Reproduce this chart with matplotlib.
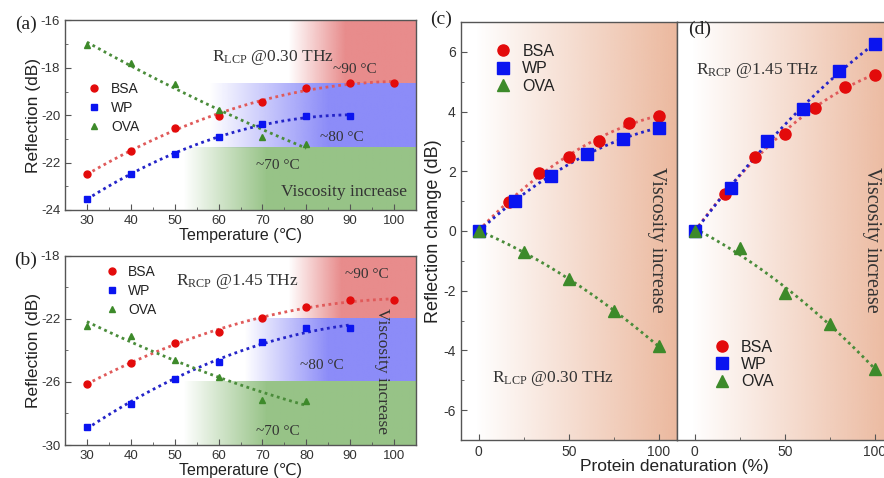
import numpy as np
import matplotlib
matplotlib.use("Agg")
import matplotlib.pyplot as plt
from matplotlib.lines import Line2D
from matplotlib.colors import to_rgb

plt.rcParams['font.family'] = ['Liberation Sans', 'DejaVu Sans']
plt.rcParams['mathtext.fontset'] = 'custom'
plt.rcParams['mathtext.rm'] = 'Liberation Serif'
plt.rcParams['mathtext.it'] = 'Liberation Serif:italic'
plt.rcParams['axes.unicode_minus'] = False

# ---------------- data ----------------
temp_bsa = [30, 40, 50, 60, 70, 80, 90, 100]
temp_wp = [30, 40, 50, 60, 70, 80, 90]
temp_ova = [30, 40, 50, 60, 70, 80]

a_bsa = [-22.49, -21.52, -20.54, -20.03, -19.44, -18.87, -18.63, -18.63]
a_wp = [-23.52, -22.49, -21.65, -20.92, -20.39, -20.04, -20.03]
a_ova = [-17.04, -17.79, -18.70, -19.79, -20.94, -21.20]

b_bsa = [-26.11, -24.82, -23.55, -22.81, -21.93, -21.23, -20.81, -20.83]
b_wp = [-28.83, -27.40, -25.81, -24.72, -23.49, -22.56, -22.60]
b_ova = [-22.43, -23.07, -24.61, -25.67, -27.15, -27.21]

den_bsa = [0, 16.7, 33.3, 50, 66.7, 83.3, 100]
den_wp = [0, 20, 40, 60, 80, 100]
den_ova = [0, 25, 50, 75, 100]

c_bsa = [0, 0.98, 1.94, 2.49, 3.03, 3.61, 3.86]
c_wp = [0, 1.00, 1.85, 2.58, 3.09, 3.45]
c_ova = [0, -0.69, -1.61, -2.67, -3.86]

d_bsa = [0, 1.24, 2.49, 3.26, 4.13, 4.82, 5.23]
d_wp = [0, 1.43, 3.03, 4.08, 5.35, 6.27]
d_ova = [0, -0.56, -2.09, -3.10, -4.61]

# band limits (dB)
a_bands = [-18.66, -21.38]
b_bands = [-22.0, -26.0]

labels = ['BSA', 'WP', 'OVA']
mk_col = ['#E30B0B', '#0A14F0', '#3D8A2A']
fit_col = ['#E05A5A', '#2424C8', '#4A8C3A']
markers = ['o', 's', '^']

band_red = '#E88C8C'
band_blue = '#8C8CF8'
band_green = '#97C387'
peach = '#EBB79C'

W, H = 884, 478
fig = plt.figure(figsize=(W / 100, H / 100), dpi=100)

def ax_px(l, t, r, b):
    return fig.add_axes([l / W, 1 - b / H, (r - l) / W, (b - t) / H])

ax_a = ax_px(65, 20.4, 416, 210)
ax_b = ax_px(65, 255.7, 416, 445)
ax_c = ax_px(460.7, 22, 676.7, 440)
ax_d = ax_px(676.7, 22, 893, 440)

spine_col = '#555555'
dots = (0, (1, 1.3))

def gradient_band(ax, x0, x1, y0, y1, color, ramp0, ramp1, z=0):
    xs = np.linspace(x0, x1, 400)
    alpha = np.clip((xs - ramp0) / (ramp1 - ramp0), 0, 1)
    rgba = np.zeros((2, len(xs), 4))
    rgba[..., :3] = to_rgb(color)
    rgba[..., 3] = alpha[None, :]
    ax.imshow(rgba, extent=[x0, x1, y0, y1], aspect='auto', origin='lower',
              interpolation='bilinear', zorder=z)

def style(ax, fs):
    for s in ax.spines.values():
        s.set_color(spine_col)
        s.set_linewidth(1.0)
    ax.tick_params(which='both', direction='in', colors=spine_col,
                   labelcolor='#333333', labelsize=fs)
    ax.tick_params(which='major', length=4)
    ax.tick_params(which='minor', length=2.5)

def plot_series(ax, xs_list, ys_list, ms, lw, deg=2):
    for xs, ys, c, fc, m in zip(xs_list, ys_list, mk_col, fit_col, markers):
        xs = np.asarray(xs, float); ys = np.asarray(ys, float)
        p = np.polyfit(xs, ys, deg)
        xx = np.linspace(xs.min(), xs.max(), 200)
        ax.plot(xx, np.polyval(p, xx), color=fc, lw=lw, ls=dots, zorder=3)
        ax.plot(xs, ys, ls='none', marker=m, color=c, ms=ms, mec=c, zorder=4)

def legend(ax, fs, ms, anchor, spacing):
    handles = [Line2D([], [], ls='none', marker=m, color=c, ms=ms)
               for m, c in zip(markers, mk_col)]
    leg = ax.legend(handles, labels, loc='upper left', bbox_to_anchor=anchor,
                    frameon=False, fontsize=fs, handlelength=1.0,
                    handletextpad=0.7, borderpad=0, borderaxespad=0,
                    labelspacing=spacing)
    for t in leg.get_texts():
        t.set_color('#222222')

serif = ['Liberation Serif', 'DejaVu Serif']

# ---------------- panel (a) ----------------
ax = ax_a
xl = (25, 105)
gradient_band(ax, xl[0], xl[1], a_bands[0], -16, band_red, 76, 89)
gradient_band(ax, xl[0], xl[1], a_bands[1], a_bands[0], band_blue, 58, 85)
gradient_band(ax, xl[0], xl[1], -24, a_bands[1], band_green, 52, 71)
plot_series(ax, [temp_bsa, temp_wp, temp_ova], [a_bsa, a_wp, a_ova], 5, 2.0)
ax.set_xlim(*xl); ax.set_ylim(-24, -16)
ax.set_xticks(range(30, 101, 10)); ax.set_xticks(range(35, 105, 10), minor=True)
ax.set_yticks([-24, -22, -20, -18, -16]); ax.set_yticks([-23, -21, -19, -17], minor=True)
style(ax, 9.5)
ax.set_xlabel('Temperature (℃)', fontsize=11.5, labelpad=1, color='#222222')
ax.set_ylabel('Reflection (dB)', fontsize=12.5, labelpad=0, color='#222222')
legend(ax, 10, 5, (0.064, 0.675), 0.35)
ax.text(58.6, -17.55, r'R$_{\mathrm{LCP}}$ @0.30 THz', family=serif, fontsize=12.5,
        va='center', ha='left', color='#333333', zorder=5)
ax.text(91.1, -18.06, '~90 °C', family=serif, fontsize=11, ha='center', va='center', color='#333333', zorder=5)
ax.text(88.0, -20.92, '~80 °C', family=serif, fontsize=11, ha='center', va='center', color='#333333', zorder=5)
ax.text(73.6, -22.14, '~70 °C', family=serif, fontsize=11, ha='center', va='center', color='#333333', zorder=5)
ax.text(88.6, -23.24, 'Viscosity increase', family=serif, fontsize=12.5, ha='center', va='center', color='#333333', zorder=5)

# ---------------- panel (b) ----------------
ax = ax_b
gradient_band(ax, xl[0], xl[1], b_bands[0], -18, band_red, 76, 88)
gradient_band(ax, xl[0], xl[1], b_bands[1], b_bands[0], band_blue, 66, 85)
gradient_band(ax, xl[0], xl[1], -30, b_bands[1], band_green, 52, 71)
plot_series(ax, [temp_bsa, temp_wp, temp_ova], [b_bsa, b_wp, b_ova], 5, 2.0)
ax.set_xlim(*xl); ax.set_ylim(-30, -18)
ax.set_xticks(range(30, 101, 10)); ax.set_xticks(range(35, 105, 10), minor=True)
ax.set_yticks([-30, -26, -22, -18]); ax.set_yticks([-28, -24, -20], minor=True)
style(ax, 9.5)
ax.set_xlabel('Temperature (℃)', fontsize=11.5, labelpad=1, color='#222222')
ax.set_ylabel('Reflection (dB)', fontsize=12.5, labelpad=0, color='#222222')
legend(ax, 10, 5, (0.113, 0.95), 0.35)
ax.text(50.4, -19.65, r'R$_{\mathrm{RCP}}$ @1.45 THz', family=serif, fontsize=12.5,
        va='center', ha='left', color='#333333', zorder=5)
ax.text(93.9, -19.22, '~90 °C', family=serif, fontsize=11, ha='center', va='center', color='#333333', zorder=5)
ax.text(83.5, -24.93, '~80 °C', family=serif, fontsize=11, ha='center', va='center', color='#333333', zorder=5)
ax.text(73.6, -29.15, '~70 °C', family=serif, fontsize=11, ha='center', va='center', color='#333333', zorder=5)
ax.text(97.3, -25.3, 'Viscosity increase', family=serif, fontsize=12.5, rotation=-90,
        ha='center', va='center', color='#333333', zorder=5)

# ---------------- panel (c) ----------------
xl2 = (-10, 110)
ax = ax_c
gradient_band(ax, xl2[0], xl2[1], -7, 7, peach, -2, 112)
plot_series(ax, [den_bsa, den_wp, den_ova], [c_bsa, c_wp, c_ova], 8, 2.0)
ax.set_xlim(*xl2); ax.set_ylim(-7, 7)
ax.set_xticks([0, 50, 100]); ax.set_xticks([25, 75], minor=True)
ax.set_yticks([-6, -4, -2, 0, 2, 4, 6]); ax.set_yticks([-5, -3, -1, 1, 3, 5], minor=True)
style(ax, 10)
ax.set_ylabel('Reflection change (dB)', fontsize=13, labelpad=1, color='#222222')
legend(ax, 11.5, 8, (0.16, 0.948), 0.15)
ax.text(7.5, -4.95, r'R$_{\mathrm{LCP}}$ @0.30 THz', family=serif, fontsize=12.5,
        va='center', ha='left', color='#333333', zorder=5)
ax.text(98.9, -0.3, 'Viscosity increase', family=serif, fontsize=14.5, rotation=-90,
        ha='center', va='center', color='#333333', zorder=5)

# ---------------- panel (d) ----------------
ax = ax_d
gradient_band(ax, xl2[0], xl2[1], -7, 7, peach, -2, 112)
plot_series(ax, [den_bsa, den_wp, den_ova], [d_bsa, d_wp, d_ova], 8, 2.0)
ax.set_xlim(*xl2); ax.set_ylim(-7, 7)
ax.set_xticks([0, 50, 100]); ax.set_xticks([25, 75], minor=True)
ax.set_yticks([])
style(ax, 10)
legend(ax, 11.5, 8, (0.171, 0.24), 0.15)
ax.text(0.5, 5.38, r'R$_{\mathrm{RCP}}$ @1.45 THz', family=serif, fontsize=12.5,
        va='center', ha='left', color='#333333', zorder=5)
ax.text(98.2, -0.3, 'Viscosity increase', family=serif, fontsize=14.5, rotation=-90,
        ha='center', va='center', color='#333333', zorder=5)

fig.text(674.5 / W, 1 - 466 / H, 'Protein denaturation (%)', fontsize=12.5,
         ha='center', va='center', color='#222222')

# panel letters
fig.text(26 / W, 1 - 24 / H, '(a)', family=serif, fontsize=14, ha='center', va='center', color='#222222')
fig.text(26 / W, 1 - 260 / H, '(b)', family=serif, fontsize=14, ha='center', va='center', color='#222222')
fig.text(441 / W, 1 - 19 / H, '(c)', family=serif, fontsize=14, ha='center', va='center', color='#222222')
fig.text(700 / W, 1 - 29 / H, '(d)', family=serif, fontsize=14, ha='center', va='center', color='#222222')

fig.savefig('out.png', dpi=100)
